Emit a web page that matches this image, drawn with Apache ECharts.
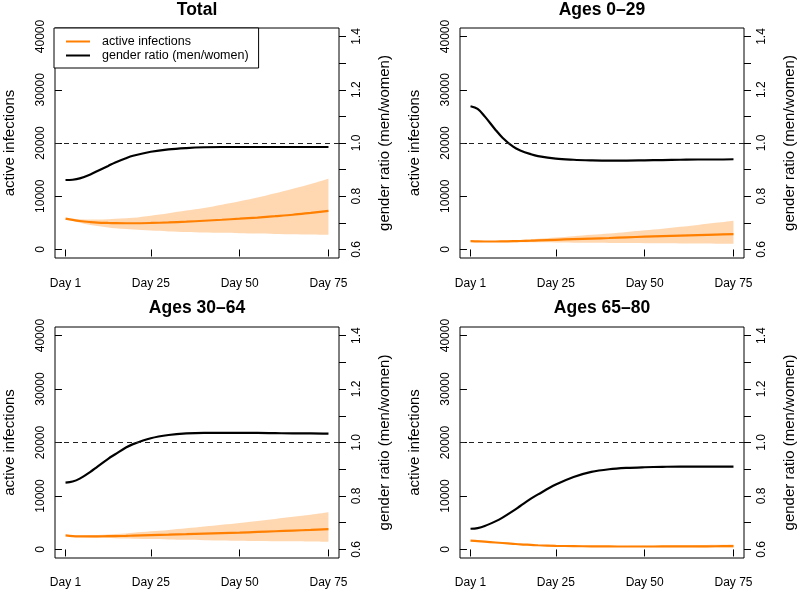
<!DOCTYPE html>
<html>
<head>
<meta charset="utf-8">
<script src="https://cdn.jsdelivr.net/npm/echarts@6/dist/echarts.min.js"></script>
<style>html,body{margin:0;padding:0;background:#fff;}#chart{width:800px;height:589px;}</style>
</head>
<body>
<div id="chart"></div>
<script>
// ---- data ----
const days = [1,3,5,8,10,13,15,18,20,25,30,35,40,45,50,55,60,65,70,75];

const panelTitles = ['Total', 'Ages 0\u201329', 'Ages 30\u201364', 'Ages 65\u201380'];

const ratioTotal = [0.861,0.862,0.867,0.882,0.895,0.914,0.927,0.943,0.952,0.967,0.976,0.981,0.984,0.985,0.985,0.985,0.985,0.985,0.985,0.985];
const meanTotal  = [5800,5550,5350,5150,5050,4980,4950,4930,4930,4980,5080,5220,5400,5580,5780,6000,6250,6520,6880,7250];
const upperTotal = [5800,5750,5700,5650,5650,5700,5750,5850,5950,6350,6800,7300,7800,8400,9050,9750,10550,11400,12300,13300];
const lowerTotal = [5800,5400,5000,4600,4400,4150,4000,3850,3750,3550,3400,3300,3200,3120,3050,2980,2920,2860,2800,2750];

const ratio0_29 = [1.138,1.128,1.100,1.050,1.020,0.986,0.972,0.958,0.951,0.941,0.937,0.935,0.934,0.934,0.935,0.936,0.937,0.938,0.938,0.939];
const mean0_29  = [1560,1520,1500,1500,1520,1560,1590,1650,1700,1820,1940,2050,2160,2280,2400,2500,2600,2700,2800,2900];
const upper0_29 = [1560,1550,1560,1600,1650,1730,1800,1900,2000,2250,2500,2750,3000,3300,3600,3900,4250,4600,5000,5400];
const lower0_29 = [1560,1500,1450,1420,1400,1380,1370,1350,1340,1310,1280,1250,1220,1200,1180,1150,1130,1110,1090,1070];

const ratio30_64 = [0.850,0.854,0.865,0.890,0.910,0.939,0.956,0.981,0.994,1.016,1.028,1.034,1.036,1.036,1.036,1.036,1.035,1.034,1.034,1.033];
const mean30_64  = [2625,2500,2450,2430,2450,2480,2500,2540,2580,2680,2760,2850,2950,3050,3150,3270,3400,3530,3650,3800];
const upper30_64 = [2625,2600,2600,2650,2700,2800,2870,3000,3100,3380,3650,3950,4280,4620,4950,5300,5700,6100,6500,6950];
const lower30_64 = [2625,2450,2350,2250,2200,2120,2080,2030,2000,1930,1860,1800,1740,1690,1640,1590,1550,1510,1470,1430];

const ratio65_80 = [0.6775,0.680,0.6875,0.705,0.719,0.744,0.7625,0.790,0.806,0.8425,0.871,0.890,0.900,0.905,0.9075,0.909,0.910,0.910,0.910,0.910];
const mean65_80  = [1650,1550,1450,1300,1200,1050,950,850,780,680,620,580,560,550,550,560,570,580,600,620];
const upper65_80 = [1650,1570,1480,1340,1240,1100,1000,900,830,740,690,660,650,660,680,710,750,800,860,930];
const lower65_80 = [1650,1530,1420,1260,1160,1000,900,800,730,620,550,500,470,450,430,410,390,370,350,330];

const xTicks = [1,25,50,75];
const xTickLabels = ['Day 1','Day 25','Day 50','Day 75'];
const yTicks = [0,10000,20000,30000,40000];
const ratioTicks = [0.6,0.7,0.8,0.9,1.0,1.1,1.2,1.3,1.4];
const ratioLabels = [0.6,0.8,1.0,1.2,1.4];
const ratioReference = 1.0;

const panels = [
  {ratio: ratioTotal, mean: meanTotal, upper: upperTotal, lower: lowerTotal},
  {ratio: ratio0_29, mean: mean0_29, upper: upper0_29, lower: lower0_29},
  {ratio: ratio30_64, mean: mean30_64, upper: upper30_64, lower: lower30_64},
  {ratio: ratio65_80, mean: mean65_80, upper: upper65_80, lower: lower65_80}
];

// ---- layout / style ----
const FONT = '"Liberation Sans", Arial, Helvetica, sans-serif';
const rects = [
  {left: 55, top: 28, width: 284, height: 230, titleTop: 1, xMargin: 20},
  {left: 460, top: 28, width: 284, height: 230, titleTop: 1, xMargin: 20},
  {left: 55, top: 327, width: 284, height: 231, titleTop: 299, xMargin: 19},
  {left: 460, top: 327, width: 284, height: 231, titleTop: 299, xMargin: 19}
];
const ORANGE = '#FF7F00';
const BAND = 'rgba(255,127,0,0.30)';

const grids = [], xAxes = [], yAxes = [], series = [], titles = [];

panels.forEach((p, i) => {
  const r = rects[i];
  grids.push({left: r.left, top: r.top, width: r.width, height: r.height, show: true,
    borderColor: '#000', borderWidth: 1, backgroundColor: 'transparent', outerBoundsMode: 'none', containLabel: false});
  titles.push({text: panelTitles[i], left: r.left + r.width / 2, top: r.titleTop, textAlign: 'center', padding: 0,
    textStyle: {fontFamily: FONT, fontSize: 17.5, fontWeight: 'bold', color: '#000'}});
  xAxes.push({gridIndex: i, type: 'value', min: -1.96, max: 77.96,
    axisLine: {show: false}, splitLine: {show: false},
    axisTick: {show: true, length: 7, customValues: xTicks, lineStyle: {color: '#000', width: 1}},
    axisLabel: {customValues: xTicks, formatter: v => xTickLabels[xTicks.indexOf(v)],
      margin: r.xMargin, fontSize: 12, color: '#000', fontFamily: FONT}});
  yAxes.push({gridIndex: i, type: 'value', position: 'left', min: -1600, max: 41600,
    axisLine: {show: false}, splitLine: {show: false},
    axisTick: {show: true, length: 7, customValues: yTicks, lineStyle: {color: '#000', width: 1}},
    axisLabel: {customValues: yTicks, formatter: v => String(v), rotate: 90, margin: 8,
      fontSize: 12, color: '#000', fontFamily: FONT},
    name: 'active infections', nameLocation: 'middle', nameRotate: 90, nameGap: 38, nameMoveOverlap: false,
    nameTextStyle: {fontSize: 15, color: '#000', fontFamily: FONT}});
  yAxes.push({gridIndex: i, type: 'value', position: 'right', min: 0.568, max: 1.432,
    axisLine: {show: false}, splitLine: {show: false},
    axisTick: {show: true, length: 7, customValues: ratioTicks, lineStyle: {color: '#000', width: 1}},
    axisLabel: {customValues: ratioLabels, formatter: v => v.toFixed(1), rotate: 90, margin: 12,
      fontSize: 12, color: '#000', fontFamily: FONT},
    name: 'gender ratio (men/women)', nameLocation: 'middle', nameRotate: 90, nameGap: 38, nameMoveOverlap: false,
    nameTextStyle: {fontSize: 15, color: '#000', fontFamily: FONT}});

  const common = {type: 'line', xAxisIndex: i, smooth: 0.35, symbol: 'none', showSymbol: false, silent: true, animation: false};
  // band: value first, day second so that stacking happens on the value dimension
  series.push(Object.assign({}, common, {
    name: 'band-lower-' + i, yAxisIndex: 2 * i, stack: 'band' + i,
    dimensions: ['v', 'd'], encode: {x: 'd', y: 'v'},
    data: days.map((d, k) => [p.lower[k], d]), lineStyle: {opacity: 0, width: 0}, z: 1}));
  series.push(Object.assign({}, common, {
    name: 'band-' + i, yAxisIndex: 2 * i, stack: 'band' + i,
    dimensions: ['v', 'd'], encode: {x: 'd', y: 'v'},
    data: days.map((d, k) => [p.upper[k] - p.lower[k], d]), lineStyle: {opacity: 0, width: 0},
    areaStyle: {color: BAND, opacity: 1}, z: 1}));
  series.push(Object.assign({}, common, {
    name: 'active infections', yAxisIndex: 2 * i,
    data: days.map((d, k) => [d, p.mean[k]]),
    itemStyle: {color: ORANGE}, lineStyle: {color: ORANGE, width: 2.2}, z: 3}));
  series.push(Object.assign({}, common, {
    name: 'gender ratio (men/women)', yAxisIndex: 2 * i + 1,
    data: days.map((d, k) => [d, p.ratio[k]]),
    itemStyle: {color: '#000'}, lineStyle: {color: '#000', width: 2.2}, z: 4,
    markLine: {silent: true, symbol: 'none', label: {show: false}, animation: false,
      lineStyle: {color: '#222', width: 1, type: [5, 4]}, data: [{yAxis: ratioReference}]}}));
});

const chart = echarts.init(document.getElementById('chart'), null, {renderer: 'canvas'});
chart.setOption({
  animation: false,
  backgroundColor: '#fff',
  title: titles,
  grid: grids,
  xAxis: xAxes,
  yAxis: yAxes,
  legend: {
    data: ['active infections', 'gender ratio (men/women)'],
    orient: 'vertical', left: 54, top: 28, selectedMode: false,
    backgroundColor: '#fff', borderColor: '#000', borderWidth: 1,
    padding: [7, 10, 6, 11], itemGap: 1, itemWidth: 24, itemHeight: 14,
    itemStyle: {opacity: 0},
    textStyle: {fontFamily: FONT, fontSize: 12.5, color: '#000', padding: [0, 0, 0, 7]}
  },
  series: series
});
</script>
</body>
</html>
